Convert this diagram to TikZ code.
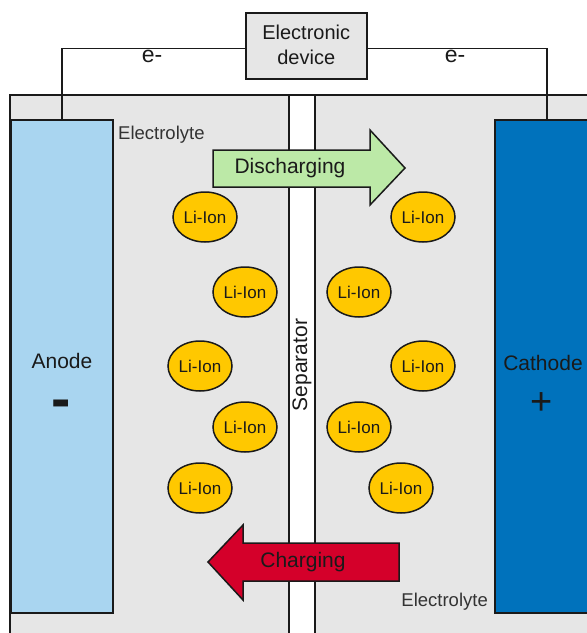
\documentclass[tikz,border=0pt]{standalone}
\usepackage{fontspec}
\setmainfont{Liberation Sans}
\usetikzlibrary{shapes.geometric}
\definecolor{cellgray}{HTML}{E6E6E6}
\definecolor{anodeblue}{HTML}{A9D5F0}
\definecolor{cathodeblue}{HTML}{0072BC}
\definecolor{iongold}{HTML}{FFC800}
\definecolor{dischgreen}{HTML}{BCE9A7}
\definecolor{chgred}{HTML}{D4002A}
\definecolor{ink}{HTML}{1A1A1A}
\definecolor{labelgray}{HTML}{333333}
\tikzset{
  outline/.style={draw=ink, line width=1.5pt},
  electrode/.style={outline, anchor=north west, inner sep=0pt},
  ion/.style={ellipse, outline, fill=iongold, minimum width=64pt, minimum height=50pt,
    inner sep=0pt, font=\fontsize{17}{20}\selectfont, text=ink},
  bigtext/.style={font=\fontsize{21}{25}\selectfont, text=ink},
  smalltext/.style={font=\fontsize{18.5}{22}\selectfont, text=labelgray},
  wire/.style={draw=ink, line width=1.5pt}
}
\begin{document}
\begin{tikzpicture}[x=1pt,y=-1pt]
\useasboundingbox (0,0) rectangle (587,633);
\begin{scope}
\clip (0,0) rectangle (587,633);
% cell housing with electrolyte
\draw[outline, fill=cellgray] (10,95) rectangle (640,680);
% separator strip
\draw[outline, fill=white] (289,95) rectangle (315,680);
\node[rotate=90, bigtext] (sep) at (302,365) {Separator};
% electrodes
\node[electrode, fill=anodeblue, minimum width=102pt, minimum height=493pt] (anode) at (10,119) {};
\node[electrode, fill=cathodeblue, minimum width=140pt, minimum height=493pt] (cathode) at (494,119) {};
\node[bigtext] (anodelbl) at (62,361) {Anode};
% polarity signs: boxes smashed so only the glyph itself takes room
\node[font=\bfseries\fontsize{58}{60}\selectfont, text=ink, inner sep=0pt] (minus) at (61.5,418) {\smash{-}};
\node[bigtext] (cathodelbl) at (543,363) {Cathode};
\node[font=\fontsize{38}{42}\selectfont, text=ink] (plus) at (542,404) {+};
\end{scope}
% external circuit
\node[outline, fill=cellgray, minimum width=121pt, minimum height=66pt, anchor=north west,
  inner sep=0pt, align=center, font=\fontsize{20}{25}\selectfont, text=ink] (device) at (245,12)
  {\raisebox{2pt}{Electronic}\\\raisebox{2pt}{device}};
\coordinate (anodetab) at (62,119);
\coordinate (cathodetab) at (547,119);
\draw[wire] (device.west) ++(0,2.5) -| (anodetab);
\draw[wire] (device.east) ++(0,2.5) -| (cathodetab);
\node[font=\fontsize{23}{26}\selectfont, text=ink] (eleft) at (152,56) {e-};
\node[font=\fontsize{23}{26}\selectfont, text=ink] (eright) at (455,56) {e-};
% electrolyte labels
\node[smalltext, anchor=west, inner sep=0pt] (elyteA) at (118,135) {Electrolyte};
\node[smalltext, anchor=east, inner sep=0pt] (elyteB) at (488,602) {Electrolyte};
% discharging arrow
\draw[outline, fill=dischgreen] (213,150) -- (370,150) -- (370,130) -- (405,168)
  -- (370,205) -- (370,187) -- (213,187) -- cycle;
\node[bigtext] (dischg) at (290,168) {Discharging};
% charging arrow
\draw[outline, fill=chgred] (208,562) -- (243,525) -- (243,543) -- (399,543)
  -- (399,581) -- (243,581) -- (243,600) -- cycle;
\node[bigtext] (chg) at (303,562) {Charging};
% lithium ions
\node[ion] (l1) at (205,217) {Li-Ion};
\node[ion] (l2) at (245,292) {Li-Ion};
\node[ion] (l3) at (200,366) {Li-Ion};
\node[ion] (l4) at (245,427) {Li-Ion};
\node[ion] (l5) at (200,488) {Li-Ion};
\node[ion] (r1) at (423,217) {Li-Ion};
\node[ion] (r2) at (359,292) {Li-Ion};
\node[ion] (r3) at (423,366) {Li-Ion};
\node[ion] (r4) at (359,427) {Li-Ion};
\node[ion] (r5) at (401,488) {Li-Ion};
\end{tikzpicture}
\end{document}
